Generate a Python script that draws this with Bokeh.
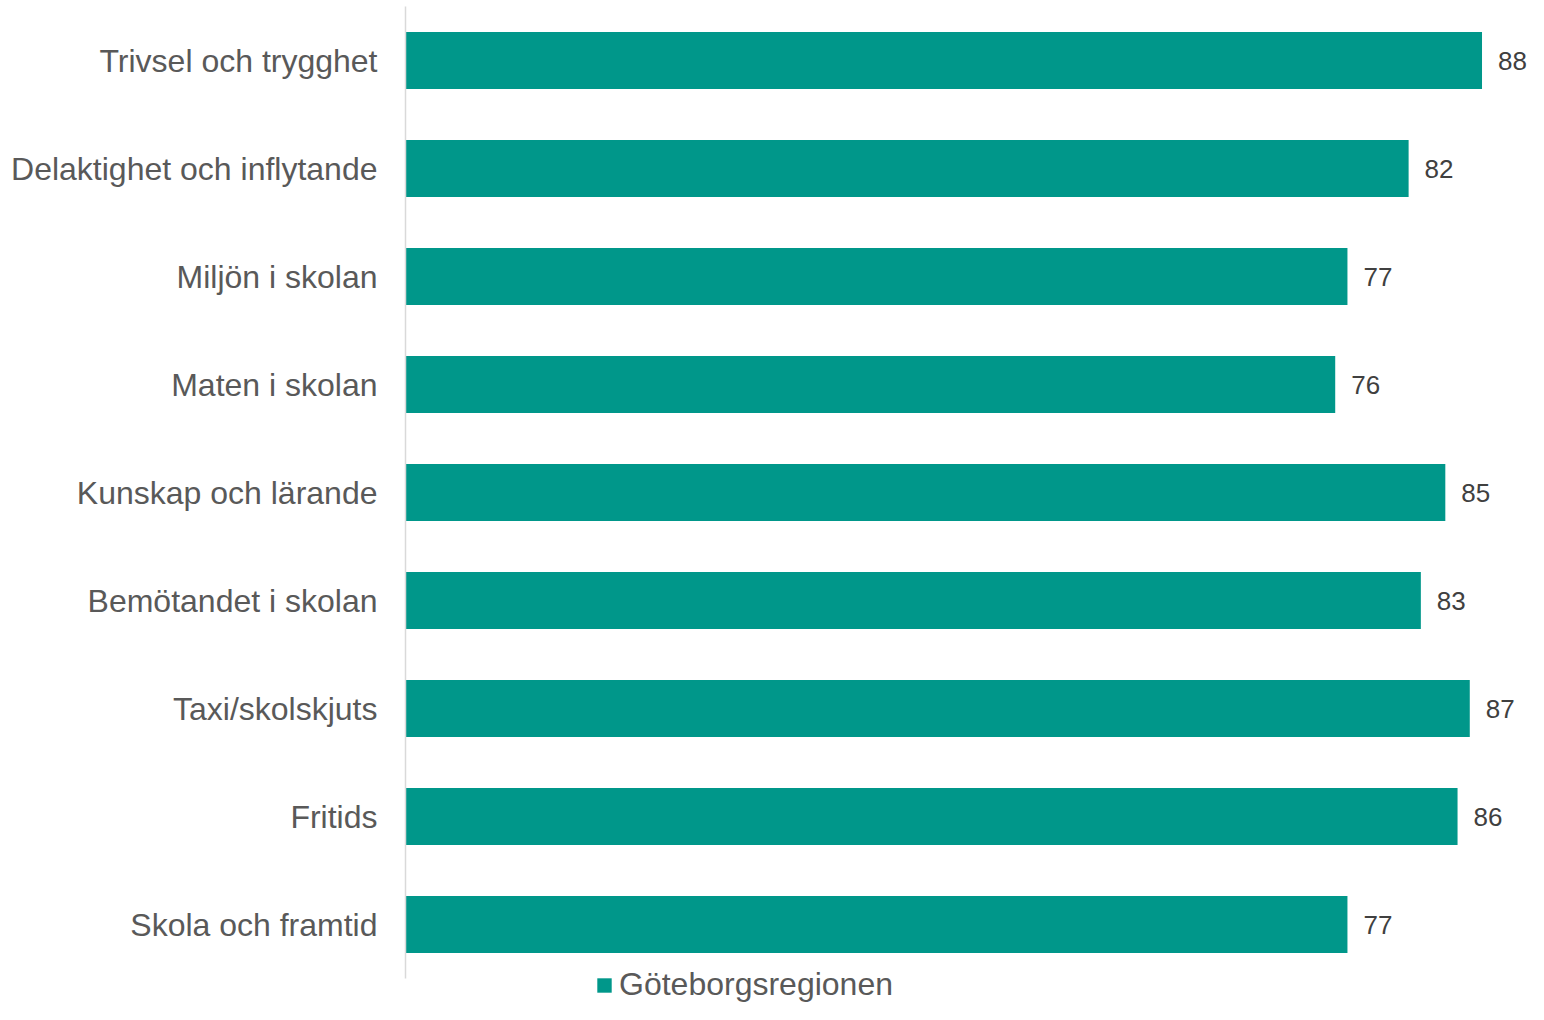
from bokeh.plotting import figure
from bokeh.models import Range1d, ColumnDataSource, Legend, LegendItem, FixedTicker
from bokeh.core.properties import value
from bokeh.embed import file_html
from bokeh.resources import INLINE

categories = ["Trivsel och trygghet", "Delaktighet och inflytande", "Miljön i skolan",
              "Maten i skolan", "Kunskap och lärande", "Bemötandet i skolan",
              "Taxi/skolskjuts", "Fritids", "Skola och framtid"]
values = [88, 82, 77, 76, 85, 83, 87, 86, 77]
series_name = "Göteborgsregionen"

FONT = "Liberation Sans"
BAR = "#00978A"

n = len(categories)
ypos = [n - 1 - i for i in range(n)]  # first category on top
src = ColumnDataSource(dict(y=ypos, cat=categories, val=values, lbl=[str(v) for v in values]))

H = 1004
TOP = 6
UNIT = 108.0
top_val = n - 0.5
span = (H - TOP) / UNIT

p = figure(y_range=Range1d(top_val - span, top_val),
           x_range=Range1d(0, 91.8),
           width=1528, height=H, output_backend="svg", toolbar_location=None,
           min_border_left=405, min_border_right=0, min_border_top=TOP, min_border_bottom=0)
p.outline_line_color = None
p.background_fill_color = "white"
p.border_fill_color = "white"
p.xgrid.visible = False
p.ygrid.visible = False
p.xaxis.visible = False

yax = p.yaxis[0]
yax.ticker = FixedTicker(ticks=ypos)
yax.major_label_overrides = {y: c for y, c in zip(ypos, categories)}
yax.bounds = (-0.5, n - 0.5)
yax.axis_line_color = "#D9D9D9"
yax.axis_line_width = 1.5
yax.major_tick_line_color = None
yax.minor_tick_line_color = None
yax.major_tick_out = 0
yax.major_tick_in = 0
yax.major_label_standoff = 28
yax.major_label_text_font = FONT
yax.major_label_text_font_size = "32px"
yax.major_label_text_color = "#595959"

r = p.hbar(y="y", right="val", left=0, height=0.53, source=src,
           fill_color=BAR, line_color=None)

p.text(x="val", y="y", text="lbl", source=src, x_offset=16,
       text_baseline="middle", text_align="left",
       text_font=value(FONT), text_font_size="26px", text_color="#404040")

legend = Legend(items=[LegendItem(label=series_name, renderers=[r])],
                location=(190, 1), orientation="horizontal",
                glyph_width=18, glyph_height=18, label_standoff=6,
                padding=0, margin=0, spacing=0,
                label_text_font=FONT, label_text_font_size="32px",
                label_text_color="#595959",
                border_line_color=None, background_fill_alpha=0)
p.add_layout(legend)

open("out.html", "w").write(file_html(p, INLINE))
